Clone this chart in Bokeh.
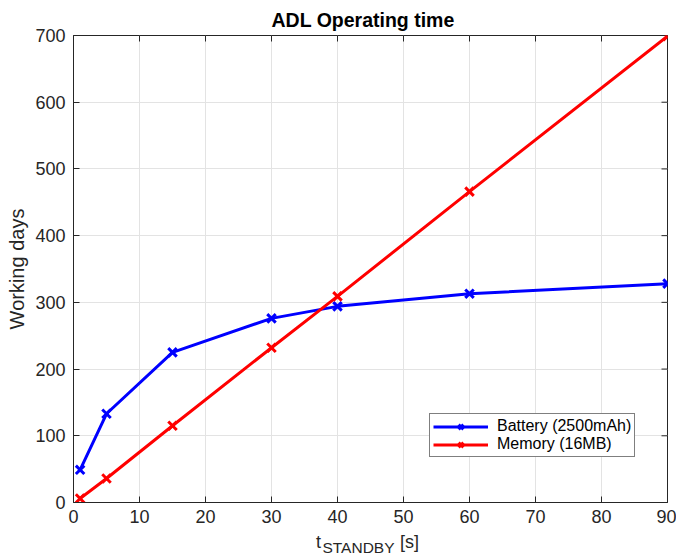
import math
from bokeh.plotting import figure
from bokeh.models import Range1d, LinearAxis, Legend, LegendItem, FixedTicker
from bokeh.embed import file_html
from bokeh.resources import INLINE

# ---- data ----
t_standby = [1, 5, 15, 30, 40, 60, 90]
battery_days = [49, 133, 225, 276, 294, 313, 328]
memory_days = [6, 36, 115, 232, 309, 466, 699]
x_ticks = [0, 10, 20, 30, 40, 50, 60, 70, 80, 90]
y_ticks = [0, 100, 200, 300, 400, 500, 600, 700]
series_labels = ["Battery (2500mAh)", "Memory (16MB)"]
title_text = "ADL Operating time"
y_label = "Working days"
x_label_main = ["t", "[s]"]
x_label_sub = "STANDBY"

FONT = "Liberation Sans"
AX_COL = "#262626"
W, H = 676, 558
FL, FR, FT, FB = 73, 667, 35, 502   # frame box in canvas pixels

p = figure(width=W, height=H,
           x_range=Range1d(x_ticks[0], x_ticks[-1]), y_range=Range1d(y_ticks[0], y_ticks[-1]),
           output_backend="svg", toolbar_location=None,
           min_border_left=FL, min_border_right=W - FR, min_border_top=FT, min_border_bottom=H - FB)

p.title.text = title_text
p.title.text_font = FONT
p.title.text_font_size = "19.5px"
p.title.text_font_style = "bold"
p.title.text_color = "black"
p.title.align = "left"
p.title.offset = 198

p.outline_line_color = AX_COL
p.outline_line_width = 1

p.xaxis.ticker = FixedTicker(ticks=x_ticks)
p.yaxis.ticker = FixedTicker(ticks=y_ticks)
for ax in p.xaxis + p.yaxis:
    ax.major_tick_in = 6
    ax.major_tick_out = 0
    ax.minor_tick_line_color = None
    ax.axis_line_color = AX_COL
    ax.major_tick_line_color = AX_COL
    ax.major_label_text_font = FONT
    ax.major_label_text_color = AX_COL
    ax.major_label_text_font_size = "18px"
p.xaxis.major_label_standoff = 7
p.yaxis.major_label_standoff = 8

p.yaxis.axis_label = y_label
p.yaxis.axis_label_text_font = FONT
p.yaxis.axis_label_text_font_size = "20px"
p.yaxis.axis_label_text_font_style = "normal"
p.yaxis.axis_label_text_color = AX_COL
p.yaxis.axis_label_standoff = 4

# x-axis title "t_STANDBY [s]" built from two unlined label rows under the main x axis,
# positioned on a pixel-valued helper range spanning the frame
p.extra_x_ranges = {"px": Range1d(FL, FR)}
pos_t, pos_s, pos_sub = 318, 409, 358
rows = [({pos_t: x_label_main[0], pos_s: x_label_main[1]}, "18px", 6),
        ({pos_sub: x_label_sub}, "15.5px", -16)]
for overrides, fsize, standoff in rows:
    ax = LinearAxis(x_range_name="px", ticker=FixedTicker(ticks=list(overrides.keys())))
    ax.major_label_overrides = overrides
    ax.axis_line_color = None
    ax.major_tick_line_color = None
    ax.minor_tick_line_color = None
    ax.major_tick_in = 0
    ax.major_tick_out = 0
    ax.major_label_standoff = standoff
    ax.major_label_text_font = FONT
    ax.major_label_text_font_size = fsize
    ax.major_label_text_color = AX_COL
    p.add_layout(ax, "below")

p.xgrid.ticker = FixedTicker(ticks=x_ticks)
p.ygrid.ticker = FixedTicker(ticks=y_ticks)
p.grid.grid_line_color = "#e3e3e3"
p.grid.grid_line_width = 1

# inward ticks on the top and right edges of the box (half of each dash is clipped by the frame)
p.scatter(x_ticks, [y_ticks[-1]] * len(x_ticks), marker="dash", angle=math.pi / 2,
          size=12, line_color=AX_COL, line_width=1)
p.scatter([x_ticks[-1]] * len(y_ticks), y_ticks, marker="dash",
          size=12, line_color=AX_COL, line_width=1)

l1 = p.line(t_standby, battery_days, line_color="#0000ff", line_width=3)
s1 = p.scatter(t_standby, battery_days, marker="x", size=12, line_color="#0000ff", line_width=3)
l2 = p.line(t_standby, memory_days, line_color="#ff0000", line_width=3)
s2 = p.scatter(t_standby, memory_days, marker="x", size=12, line_color="#ff0000", line_width=3)

legend = Legend(items=[LegendItem(label=series_labels[0], renderers=[l1, s1]),
                       LegendItem(label=series_labels[1], renderers=[l2, s2])],
                location=(356, 45))
legend.border_line_color = "black"
legend.border_line_width = 1
legend.background_fill_color = "white"
legend.background_fill_alpha = 1
legend.label_text_font = FONT
legend.label_text_font_size = "16px"
legend.label_text_color = "black"
legend.glyph_width = 55
legend.glyph_height = 17
legend.label_height = 17
legend.label_standoff = 9
legend.spacing = 0
legend.padding = 3
legend.margin = 0
p.add_layout(legend)

open("out.html", "w").write(file_html(p, INLINE))
